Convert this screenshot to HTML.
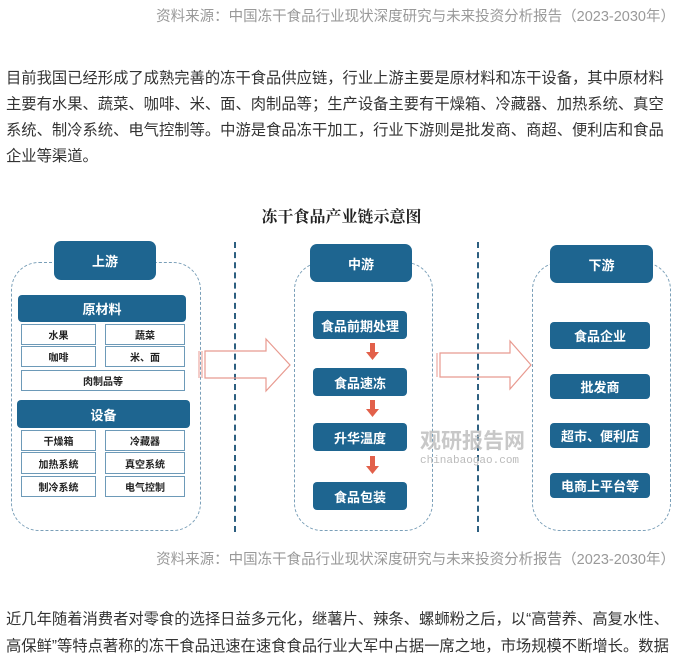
<!DOCTYPE html>
<html><head><meta charset="utf-8"><style>
body{margin:0;width:683px;height:658px;background:#fff;position:relative;overflow:hidden;font-family:"Liberation Sans","Noto Sans CJK SC",sans-serif;}
.a{position:absolute;white-space:nowrap;}
.src{color:#999;font-size:14.5px;right:8px;}
.p{left:6px;font-size:15.3px;color:#333;}
.b{position:absolute;background:#1e6590;color:#fff;font-weight:bold;display:flex;align-items:center;justify-content:center;font-size:13px;border-radius:4px;}
.c{position:absolute;border:1.5px solid #6d9ab8;background:#fff;color:#222;display:flex;align-items:center;justify-content:center;font-size:10px;font-weight:bold;box-sizing:border-box;}
.d{position:absolute;border:1.5px dashed #7a9fb8;border-radius:28px;box-sizing:border-box;}
.v{position:absolute;border-left:2px dashed #2d5f80;width:0;}
</style></head><body>
<div class="a src" style="top:5px">资料来源：中国冻干食品行业现状深度研究与未来投资分析报告（2023-2030年）</div>
<div class="a p" style="top:66px">目前我国已经形成了成熟完善的冻干食品供应链，行业上游主要是原材料和冻干设备，其中原材料</div>
<div class="a p" style="top:92px">主要有水果、蔬菜、咖啡、米、面、肉制品等；生产设备主要有干燥箱、冷藏器、加热系统、真空</div>
<div class="a p" style="top:118px">系统、制冷系统、电气控制等。中游是食品冻干加工，行业下游则是批发商、商超、便利店和食品</div>
<div class="a p" style="top:144px">企业等渠道。</div>
<div class="a" style="top:204px;left:0;width:683px;text-align:center;font-family:'Liberation Serif','Noto Serif CJK SC',serif;font-weight:bold;font-size:16px;color:#222">冻干食品产业链示意图</div>

<div class="d" style="left:11px;top:262px;width:190px;height:269px"></div>
<div class="d" style="left:294px;top:262px;width:139px;height:269px"></div>
<div class="d" style="left:532px;top:262px;width:139px;height:269px"></div>
<div class="v" style="left:234px;top:242px;height:290px"></div>
<div class="v" style="left:477px;top:242px;height:290px"></div>

<div class="b" style="left:54px;top:241px;width:102px;height:39px;border-radius:7px">上游</div>
<div class="b" style="left:18px;top:295px;width:168px;height:27px">原材料</div>
<div class="c" style="left:21px;top:324px;width:75px;height:21px">水果</div>
<div class="c" style="left:105px;top:324px;width:80px;height:21px">蔬菜</div>
<div class="c" style="left:21px;top:346px;width:75px;height:21px">咖啡</div>
<div class="c" style="left:105px;top:346px;width:80px;height:21px">米、面</div>
<div class="c" style="left:21px;top:370px;width:164px;height:21px">肉制品等</div>
<div class="b" style="left:17px;top:400px;width:173px;height:28px">设备</div>
<div class="c" style="left:21px;top:430px;width:75px;height:21px">干燥箱</div>
<div class="c" style="left:105px;top:430px;width:80px;height:21px">冷藏器</div>
<div class="c" style="left:21px;top:452px;width:75px;height:22px">加热系统</div>
<div class="c" style="left:105px;top:452px;width:80px;height:22px">真空系统</div>
<div class="c" style="left:21px;top:476px;width:75px;height:21px">制冷系统</div>
<div class="c" style="left:105px;top:476px;width:80px;height:21px">电气控制</div>

<div class="b" style="left:310px;top:244px;width:102px;height:38px;border-radius:7px">中游</div>
<div class="b" style="left:313px;top:311px;width:94px;height:28px">食品前期处理</div>
<div class="b" style="left:313px;top:368px;width:94px;height:28px">食品速冻</div>
<div class="b" style="left:313px;top:423px;width:94px;height:28px">升华温度</div>
<div class="b" style="left:313px;top:482px;width:94px;height:28px">食品包装</div>

<div class="b" style="left:550px;top:245px;width:103px;height:38px;border-radius:7px">下游</div>
<div class="b" style="left:550px;top:322px;width:100px;height:27px">食品企业</div>
<div class="b" style="left:550px;top:374px;width:100px;height:25px">批发商</div>
<div class="b" style="left:550px;top:423px;width:100px;height:25px">超市、便利店</div>
<div class="b" style="left:550px;top:473px;width:100px;height:25px">电商上平台等</div>

<svg class="a" style="left:0;top:0" width="683" height="658">
<g fill="none" stroke="#e89a90" stroke-width="1.2">
<path d="M205 351 H266 V339 L290 365 L266 391 V378 H205 Z"/>
<path d="M440 353 H510 V341 L531 365 L510 389 V377 H440 Z"/>
</g>
<g stroke="#e89a90" stroke-width="1"><line x1="199" y1="351" x2="199" y2="378"/><line x1="202" y1="351" x2="202" y2="378"/><line x1="437" y1="353" x2="437" y2="377"/></g>
<g fill="#e2604a">
<path d="M370 343h5v9h4l-6.5 8-6.5-8h4z"/>
<path d="M370 400h5v9h4l-6.5 8-6.5-8h4z"/>
<path d="M370 456h5v10h4l-6.5 8-6.5-8h4z"/>
</g>
<text x="420" y="448" font-family="Liberation Sans,Noto Sans CJK SC,sans-serif" font-size="21" font-weight="bold" fill="#bbb" opacity="0.8">观研报告网</text>
<text x="420" y="463" font-family="Liberation Mono,monospace" font-size="11" fill="#bbb">chinabaogao.com</text>
</svg>

<div class="a src" style="top:548px">资料来源：中国冻干食品行业现状深度研究与未来投资分析报告（2023-2030年）</div>
<div class="a p" style="top:607px">近几年随着消费者对零食的选择日益多元化，继薯片、辣条、螺蛳粉之后，以“高营养、高复水性、</div>
<div class="a p" style="top:634px">高保鲜”等特点著称的冻干食品迅速在速食食品行业大军中占据一席之地，市场规模不断增长。数据</div>
</body></html>
